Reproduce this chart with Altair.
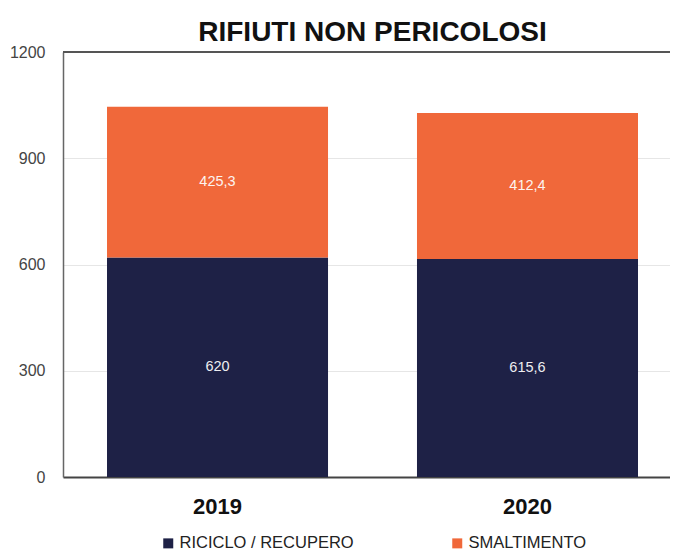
import altair as alt
import pandas as pd

years = ["2019", "2020"]
categories = ["RICICLO / RECUPERO", "SMALTIMENTO"]
riciclo = [620, 615.6]
smaltimento = [425.3, 412.4]
colors = ["#1e2146", "#f0683a"]
y_ticks = [0, 300, 600, 900, 1200]
y_max = 1200

rows = []
for i, yr in enumerate(years):
    for order, (cat, vals) in enumerate(zip(categories, [riciclo, smaltimento])):
        v = vals[i]
        rows.append({"anno": yr, "categoria": cat, "valore": v, "ordine": order,
                     "etichetta": f"{v:g}".replace(".", ",")})
df = pd.DataFrame(rows)

FONT = "Liberation Sans"

base = alt.Chart(df).transform_stack(
    stack="valore", groupby=["anno"], as_=["y0", "y1"],
    sort=[alt.SortField("ordine", order="ascending")]
).transform_calculate(mid="(datum.y0 + datum.y1) / 2")

xenc = alt.X("anno:N", sort=years,
             scale=alt.Scale(paddingInner=0.287, paddingOuter=0.1226, align=0.579),
             axis=alt.Axis(title=None, labelAngle=0, labelFontSize=22, labelFontWeight="bold",
                           labelColor="#111111", labelFont=FONT, labelPadding=19,
                           ticks=False, domainColor="#444444", domainWidth=2, grid=False))

yscale = alt.Scale(domain=[0, y_max], nice=False, zero=True)

bars = base.mark_bar().encode(
    x=xenc,
    y=alt.Y("y0:Q", scale=yscale,
            axis=alt.Axis(title=None, values=y_ticks, format="d", ticks=False, labelFontSize=16,
                          labelColor="#444444", labelFont=FONT, labelPadding=18,
                          domainColor="#666666", domainWidth=1.5,
                          gridColor="#e6e6e6", gridWidth=1)),
    y2="y1:Q",
    color=alt.Color("categoria:N", sort=categories,
                    scale=alt.Scale(domain=categories, range=colors),
                    legend=alt.Legend(title=None, orient="none", direction="horizontal",
                                      legendX=97, legendY=483, symbolType="square",
                                      symbolSize=100, labelFontSize=16.5, labelColor="#222222",
                                      labelFont=FONT, labelOffset=3, columnPadding=95,
                                      labelLimit=400, symbolStrokeWidth=0)),
)

labels = base.mark_text(fontSize=14.5, font=FONT, color="#ffffff", opacity=0.92).encode(
    x=alt.X("anno:N", sort=years),
    y=alt.Y("mid:Q", scale=yscale),
    text="etichetta:N",
)

top_rule = alt.Chart(pd.DataFrame({"limite": [y_max]})).mark_rule(
    color="#555555", strokeWidth=2).encode(y=alt.Y("limite:Q", scale=yscale))

chart = alt.layer(bars, labels, top_rule).properties(
    width=607, height=425,
    title=alt.TitleParams("RIFIUTI NON PERICOLOSI", fontSize=28, font=FONT, fontWeight="bold",
                          color="#111111", anchor="middle", frame="group", offset=-3, dx=6),
    autosize=alt.AutoSizeParams(type="none"),
    padding={"left": 55, "top": 44, "right": 0, "bottom": 73},
).configure_view(stroke=None)

chart.save("out.html", embed_options={"renderer": "svg", "actions": False})
